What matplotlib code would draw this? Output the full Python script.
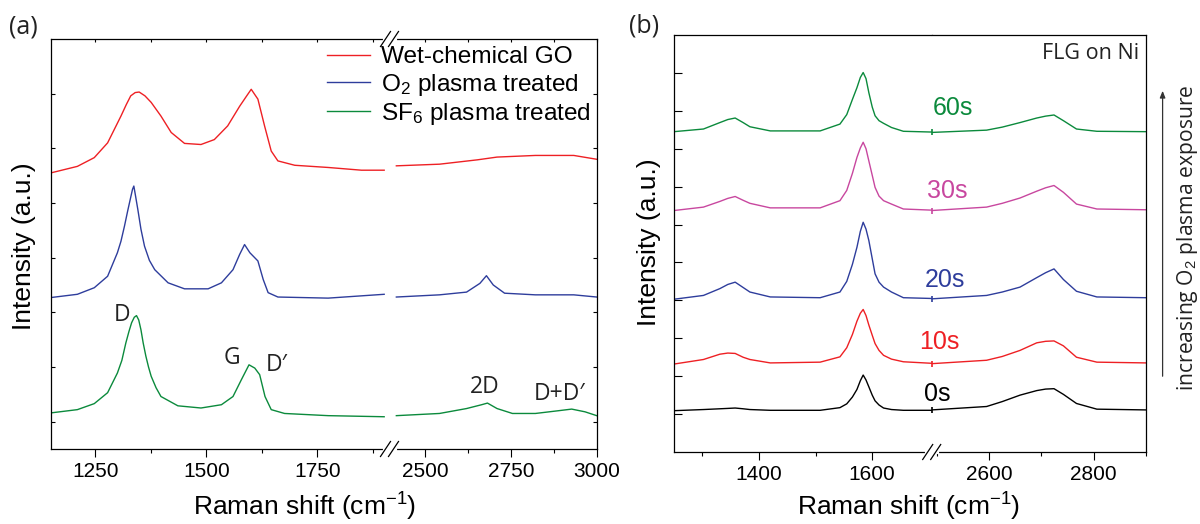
import matplotlib
matplotlib.use("Agg")
import matplotlib.pyplot as plt
from matplotlib.lines import Line2D
from matplotlib.patches import FancyArrowPatch

plt.rcParams['font.family'] = ['Liberation Sans', 'DejaVu Sans']
plt.rcParams['mathtext.fontset'] = 'custom'
plt.rcParams['mathtext.rm'] = 'Liberation Sans'
plt.rcParams['mathtext.it'] = 'Liberation Sans:italic'

# ---------------- panel (a): GO spectra, broken axis ----------------
wet_left_x = [1150, 1210, 1248, 1278, 1308, 1320, 1330, 1340, 1349, 1362, 1376, 1398, 1421,
              1451, 1488, 1518, 1548, 1575, 1590, 1601, 1616, 1631, 1646, 1661, 1699, 1774,
              1849, 1900]
wet_left_y = [4.55, 4.67, 4.83, 5.10, 5.59, 5.80, 5.96, 6.02, 6.03, 5.96, 5.84, 5.59, 5.29,
              5.09, 5.07, 5.16, 5.41, 5.77, 5.95, 6.08, 5.90, 5.41, 4.95, 4.77, 4.69, 4.65,
              4.60, 4.60]
wet_right_x = [2415, 2541, 2652, 2709, 2821, 2933, 3000]
wet_right_y = [4.68, 4.71, 4.79, 4.84, 4.87, 4.87, 4.80]

o2_left_x = [1150, 1210, 1248, 1278, 1300, 1308, 1316, 1323, 1329, 1334, 1337, 1341, 1346,
             1353, 1361, 1372, 1384, 1414, 1451, 1504, 1534, 1560, 1575, 1586, 1598, 1616,
             1628, 1639, 1661, 1774, 1900]
o2_left_y = [2.27, 2.33, 2.45, 2.66, 3.09, 3.30, 3.58, 3.85, 4.07, 4.25, 4.31, 4.12, 3.88,
             3.52, 3.21, 2.95, 2.78, 2.54, 2.43, 2.43, 2.54, 2.78, 3.06, 3.24, 3.09, 2.94,
             2.60, 2.36, 2.28, 2.26, 2.33]
o2_right_x = [2415, 2541, 2620, 2659, 2678, 2698, 2731, 2821, 2933, 3000]
o2_right_y = [2.28, 2.32, 2.37, 2.53, 2.67, 2.50, 2.35, 2.32, 2.32, 2.28]

sf6_left_x = [1150, 1210, 1248, 1278, 1300, 1310, 1319, 1326, 1332, 1338, 1343, 1348, 1353,
              1358, 1364, 1370, 1376, 1387, 1398, 1436, 1488, 1534, 1560, 1579, 1596, 1609,
              1620, 1632, 1646, 1676, 1774, 1900]
sf6_left_y = [0.16, 0.22, 0.33, 0.53, 0.89, 1.12, 1.44, 1.65, 1.81, 1.91, 1.94, 1.86, 1.68,
              1.44, 1.20, 1.00, 0.83, 0.62, 0.46, 0.29, 0.25, 0.31, 0.46, 0.77, 1.04, 0.98,
              0.86, 0.46, 0.22, 0.15, 0.11, 0.09]
sf6_right_x = [2415, 2541, 2620, 2664, 2681, 2709, 2754, 2821, 2888, 2927, 2966, 3000]
sf6_right_y = [0.11, 0.15, 0.24, 0.31, 0.34, 0.24, 0.15, 0.15, 0.20, 0.23, 0.18, 0.11]

legend_labels = ['Wet-chemical GO', 'O$_2$ plasma treated', 'SF$_6$ plasma treated']
peak_labels_left = ['D', 'G', 'D\u2032']
peak_left_x = [1311, 1557, 1658]
peak_left_y = [1.96, 1.17, 1.03]
peak_labels_right = ['2D', 'D+D\u2032']
peak_right_x = [2673, 2892]
peak_right_y = [0.64, 0.51]

# ---------------- panel (b): FLG on Ni vs O2 exposure ----------------
flg_left_x = [1250, 1302, 1331, 1345, 1358, 1372, 1384, 1420, 1508, 1543, 1555, 1565,
              1573, 1579, 1584, 1589, 1594, 1600, 1605, 1612, 1620, 1634, 1655, 1705]
flg_right_x = [2490, 2595, 2625, 2659, 2691, 2708, 2724, 2742, 2767, 2806, 2900]

t0_left = [0.09, 0.12, 0.14, 0.15, 0.16, 0.14, 0.12, 0.10, 0.10, 0.17, 0.27, 0.45,
           0.65, 0.88, 1.03, 0.90, 0.72, 0.50, 0.35, 0.24, 0.16, 0.12, 0.10, 0.10]
t0_right = [0.11, 0.20, 0.33, 0.50, 0.62, 0.66, 0.67, 0.52, 0.28, 0.13, 0.11]
t10_left = [1.32, 1.44, 1.58, 1.61, 1.60, 1.50, 1.44, 1.35, 1.37, 1.51, 1.75, 2.10,
            2.45, 2.66, 2.76, 2.60, 2.35, 2.08, 1.86, 1.68, 1.55, 1.45, 1.38, 1.34]
t10_right = [1.33, 1.42, 1.52, 1.68, 1.88, 1.92, 1.93, 1.80, 1.50, 1.37, 1.35]
t20_left = [3.03, 3.13, 3.31, 3.42, 3.48, 3.34, 3.22, 3.09, 3.07, 3.22, 3.50, 3.95,
            4.40, 4.82, 5.06, 4.88, 4.58, 4.10, 3.70, 3.48, 3.35, 3.22, 3.07, 3.05]
t20_right = [3.04, 3.13, 3.22, 3.35, 3.60, 3.73, 3.83, 3.55, 3.24, 3.09, 3.07]
t30_left = [5.37, 5.46, 5.61, 5.69, 5.74, 5.64, 5.56, 5.44, 5.44, 5.63, 5.90, 6.35,
            6.77, 7.02, 7.17, 7.00, 6.68, 6.30, 5.98, 5.75, 5.63, 5.54, 5.41, 5.38]
t30_right = [5.37, 5.46, 5.56, 5.70, 5.88, 5.97, 6.03, 5.85, 5.54, 5.41, 5.39]
t60_left = [7.45, 7.52, 7.69, 7.77, 7.81, 7.69, 7.58, 7.47, 7.47, 7.65, 7.90, 8.30,
            8.61, 8.88, 9.01, 8.85, 8.48, 8.10, 7.87, 7.74, 7.67, 7.56, 7.46, 7.44]
t60_right = [7.43, 7.49, 7.57, 7.69, 7.81, 7.86, 7.89, 7.74, 7.52, 7.46, 7.45]

time_labels = ['0s', '10s', '20s', '30s', '60s']
time_label_x = [2501, 2504, 2515, 2520, 2530]
time_label_y = [0.54, 1.90, 3.55, 5.89, 8.07]

RED, BLUE, GREEN = '#ee2024', '#2e3d9c', '#0b8a3c'
MAGENTA = '#c8479f'
SANS2 = ['Open Sans', 'DejaVu Sans']   # the rounder face used for annotations

W, H = 1200, 524
fig = plt.figure(figsize=(W / 100, H / 100), dpi=100)


def rect(x0, x1, ytop, ybot):
    # pixel box -> figure fraction
    return [x0 / W, 1 - ybot / H, (x1 - x0) / W, (ybot - ytop) / H]


def fpos(px, py):
    return px / W, 1 - py / H


def break_mark(px, py):
    # white gap in the spine plus the two slanted strokes
    x0, y0 = fpos(px - 5, py)
    x1, y1 = fpos(px + 5, py)
    fig.add_artist(Line2D([x0, x1], [y0, y1], color='white', lw=3, zorder=20))
    for off in (-4, 4):
        xa, ya = fpos(px + off - 5, py + 7.5)
        xb, yb = fpos(px + off + 5, py - 7.5)
        fig.add_artist(Line2D([xa, xb], [ya, yb], color='black', lw=0.9, zorder=21))


ax_a1 = fig.add_axes(rect(50.7, 389.5, 39, 449))
ax_a2 = fig.add_axes(rect(389.5, 596.7, 39, 449))
ax_b1 = fig.add_axes(rect(674, 931.7, 35, 452))
ax_b2 = fig.add_axes(rect(931.7, 1146, 35, 452))

lw = 1.0
l_wet, = ax_a1.plot(wet_left_x, wet_left_y, color=RED, lw=lw)
l_o2, = ax_a1.plot(o2_left_x, o2_left_y, color=BLUE, lw=lw)
l_sf6, = ax_a1.plot(sf6_left_x, sf6_left_y, color=GREEN, lw=lw)
ax_a2.plot(wet_right_x, wet_right_y, color=RED, lw=lw)
ax_a2.plot(o2_right_x, o2_right_y, color=BLUE, lw=lw)
ax_a2.plot(sf6_right_x, sf6_right_y, color=GREEN, lw=lw)

ax_a1.set_xlim(1150, 1912)
ax_a2.set_xlim(2395, 3000)
for ax in (ax_a1, ax_a2):
    ax.set_ylim(-0.5, 7.0)
    ax.set_yticks(range(0, 7))
    ax.tick_params(axis='y', direction='in', length=3, width=0.8, labelleft=False, labelright=False)
    ax.tick_params(axis='x', which='major', direction='out', length=6, width=0.8, labelsize=15)
    ax.tick_params(axis='x', which='minor', direction='out', length=3, width=0.8)
ax_a1.set_xticks([1250, 1500, 1750])
ax_a1.set_xticks([1375, 1625, 1875], minor=True)
ax_a2.set_xticks([2500, 2750, 3000])
ax_a2.set_xticks([2625, 2875], minor=True)
ax_a1.spines['right'].set_visible(False)
ax_a2.spines['left'].set_visible(False)
ax_a2.yaxis.tick_right()

# small inward ticks along the top of panel (a)
for ax in (ax_a1, ax_a2):
    top = ax.secondary_xaxis('top')
    top.set_xticks(ax.get_xticks(minor=False))
    top.set_xticks(ax.get_xticks(minor=True), minor=True)
    top.tick_params(which='both', direction='in', length=2.5, width=0.8, labeltop=False)
    top.spines['top'].set_visible(False)

for lab, x, y in zip(peak_labels_left, peak_left_x, peak_left_y):
    ax_a1.text(x, y, lab, ha='center', va='center', fontsize=16.5, family=SANS2, color='#222222')
for lab, x, y in zip(peak_labels_right, peak_right_x, peak_right_y):
    ax_a2.text(x, y, lab, ha='center', va='center', fontsize=16.5, family=SANS2, color='#222222')

fig.legend([l_wet, l_o2, l_sf6], legend_labels, loc='upper right',
           bbox_to_anchor=fpos(591, 46), frameon=False, fontsize=17.6,
           handlelength=1.75, handletextpad=0.45, labelspacing=0.14,
           borderpad=0, borderaxespad=0)

# ---------------- panel (b) ----------------
series_b = [(t0_left, t0_right, 'black'), (t10_left, t10_right, RED),
            (t20_left, t20_right, BLUE), (t30_left, t30_right, MAGENTA),
            (t60_left, t60_right, GREEN)]
for yl, yr, c in series_b:
    ax_b1.plot(flg_left_x, yl, color=c, lw=lw)
    ax_b2.plot(flg_right_x, yr, color=c, lw=lw)
    # little joint mark where the two spectral windows meet
    ax_b2.plot(flg_right_x[:1], yr[:1], marker='|', ms=5, mew=1.2, color=c, clip_on=False)

ax_b1.set_xlim(1250, 1705)
ax_b2.set_xlim(2490, 2900)
for ax in (ax_b1, ax_b2):
    ax.set_ylim(-1, 10)
    ax.tick_params(axis='x', which='major', direction='out', length=6, width=0.8, labelsize=15)
    ax.tick_params(axis='x', which='minor', direction='out', length=3, width=0.8)
ax_b1.set_yticks(range(0, 10))
ax_b1.tick_params(axis='y', direction='in', length=5.5, width=0.8, labelleft=False)
ax_b2.set_yticks([])
ax_b1.set_xticks([1400, 1600])
ax_b1.set_xticks([1300, 1500], minor=True)
ax_b2.set_xticks([2600, 2800])
ax_b2.set_xticks([2500, 2700, 2900], minor=True)
ax_b1.spines['right'].set_visible(False)
ax_b2.spines['left'].set_visible(False)

for lab, x, y, c in zip(time_labels, time_label_x, time_label_y,
                        ['black', RED, BLUE, MAGENTA, GREEN]):
    ax_b2.text(x, y, lab, ha='center', va='center', fontsize=18, color=c)

ax_b2.text(0.97, 0.955, 'FLG on Ni', transform=ax_b2.transAxes, ha='right', va='center',
           fontsize=15.5, family=SANS2, color='#222222')

for ax in (ax_a1, ax_a2, ax_b1, ax_b2):
    for s in ax.spines.values():
        s.set_linewidth(0.9)

# break marks
break_mark(389.5, 449)
break_mark(389.5, 39)
break_mark(931.7, 452)

# axis titles and panel letters
fig.text(*fpos(305, 507), 'Raman shift (cm$^{-1}$)', ha='center', va='center', fontsize=19)
fig.text(*fpos(909, 507), 'Raman shift (cm$^{-1}$)', ha='center', va='center', fontsize=19)
fig.text(*fpos(24, 246), 'Intensity (a.u.)', ha='center', va='center', rotation=90, fontsize=19)
fig.text(*fpos(649, 242), 'Intensity (a.u.)', ha='center', va='center', rotation=90, fontsize=19)
fig.text(*fpos(23, 27), '(a)', ha='center', va='center', fontsize=18, family=SANS2, color='#222222')
fig.text(*fpos(644, 26), '(b)', ha='center', va='center', fontsize=18, family=SANS2, color='#222222')

fig.text(*fpos(1187, 238), 'increasing O$_2$ plasma exposure', ha='center', va='center',
         rotation=90, fontsize=15.2, family=SANS2, color='#222222')
ax0, ay0 = fpos(1162.6, 379)
ax1_, ay1 = fpos(1162.6, 88)
fig.add_artist(FancyArrowPatch((ax0, ay0), (ax1_, ay1), transform=fig.transFigure,
                               arrowstyle='-|>,head_length=4,head_width=1.6',
                               color='#333333', lw=0.9))

fig.savefig('out.png', dpi=100)
